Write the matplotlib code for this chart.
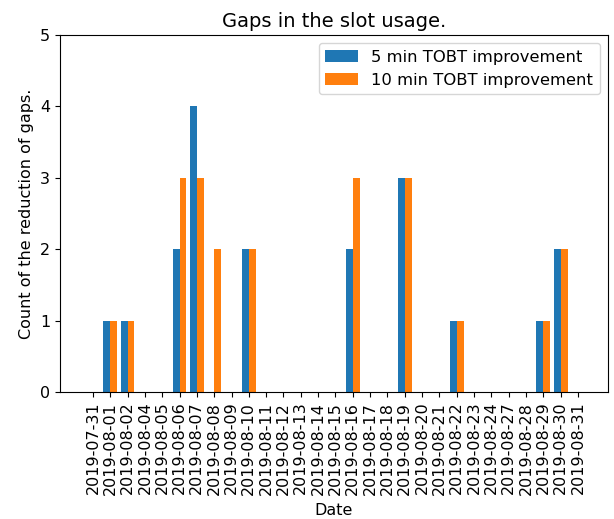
import matplotlib
matplotlib.use("Agg")
import matplotlib.pyplot as plt
import numpy as np

dates = ["2019-07-31", "2019-08-01", "2019-08-02", "2019-08-04", "2019-08-05",
         "2019-08-06", "2019-08-07", "2019-08-08", "2019-08-09", "2019-08-10",
         "2019-08-11", "2019-08-12", "2019-08-13", "2019-08-14", "2019-08-15",
         "2019-08-16", "2019-08-17", "2019-08-18", "2019-08-19", "2019-08-20",
         "2019-08-21", "2019-08-22", "2019-08-23", "2019-08-24", "2019-08-27",
         "2019-08-28", "2019-08-29", "2019-08-30", "2019-08-31"]

gaps_5min = [0, 1, 1, 0, 0, 2, 4, 0, 0, 2, 0, 0, 0, 0, 0,
             2, 0, 0, 3, 0, 0, 1, 0, 0, 0, 0, 1, 2, 0]
gaps_10min = [0, 1, 1, 0, 0, 3, 3, 2, 0, 2, 0, 0, 0, 0, 0,
              3, 0, 0, 3, 0, 0, 1, 0, 0, 0, 0, 1, 2, 0]

x = np.arange(len(dates))
w = 0.4

fig = plt.figure(figsize=(6.14, 5.19), dpi=100)
ax = fig.add_axes([0.0977, 0.2447, 0.8925, 0.6879])

ax.bar(x - w / 2, gaps_5min, w, label="5 min TOBT improvement", color="#1f77b4")
ax.bar(x + w / 2, gaps_10min, w, label="10 min TOBT improvement", color="#ff7f0e")

ax.set_xticks(x)
ax.set_xticklabels(dates, rotation=90, fontsize=11.5)
ax.tick_params(axis="y", labelsize=11.5)
ax.set_xlim(-1.9, 29.73)
ax.set_ylim(0, 5)
ax.set_yticks(range(6))

ax.set_title("Gaps in the slot usage.", fontsize=14)
ax.set_xlabel("Date", fontsize=11.5, labelpad=6)
ax.set_ylabel("Count of the reduction of gaps.", fontsize=11.5)
ax.legend(loc="upper right", fontsize=11.8)

fig.savefig("out.png", dpi=100)
